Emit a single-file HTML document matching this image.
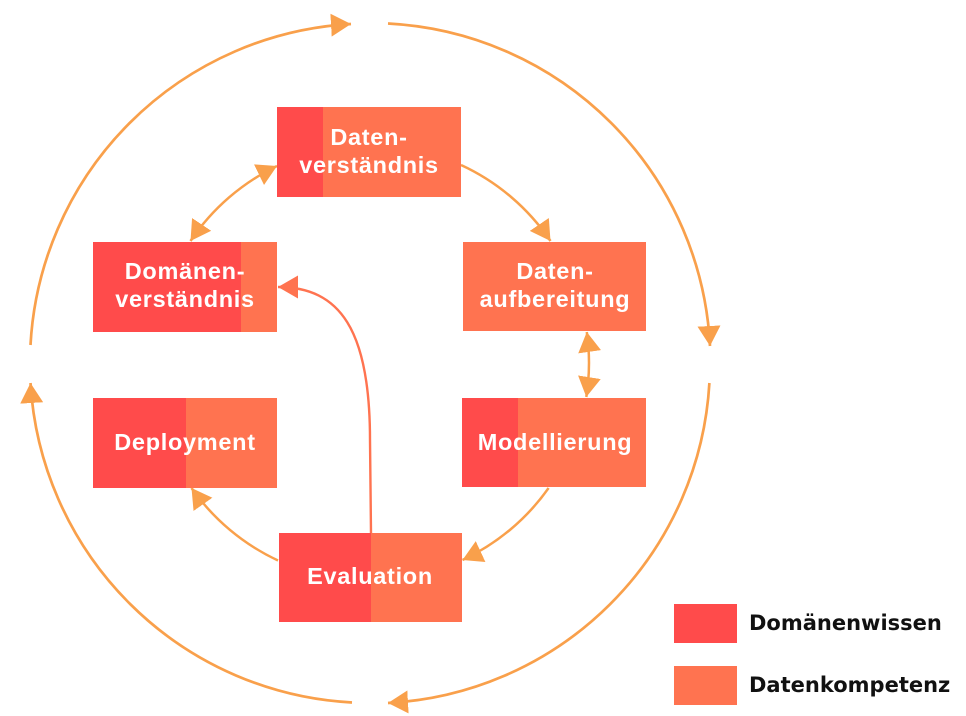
<!DOCTYPE html>
<html>
<head>
<meta charset="utf-8">
<style>
  html, body { margin: 0; padding: 0; background: #ffffff; }
  body { width: 966px; height: 716px; overflow: hidden; }
  svg { display: block; }
  .bt { font-family: "Liberation Sans", "DejaVu Sans", sans-serif; font-weight: bold; font-size: 23.5px; fill: #ffffff; letter-spacing: 0.7px; }
  .lt { font-family: "DejaVu Sans", "Liberation Sans", sans-serif; font-weight: bold; font-size: 21px; fill: #111111; }
</style>
</head>
<body>
<svg width="966" height="716" viewBox="0 0 966 716" xmlns="http://www.w3.org/2000/svg">
  <defs>
    <marker id="ao" markerUnits="userSpaceOnUse" viewBox="0 0 20 23" markerWidth="20" markerHeight="23" refX="20" refY="11.5" orient="auto-start-reverse">
      <path d="M0,0 L20,11.5 L0,23 Z" fill="#F9A04B"/>
    </marker>
    <marker id="ar" markerUnits="userSpaceOnUse" viewBox="0 0 20 23" markerWidth="20" markerHeight="23" refX="20" refY="11.5" orient="auto-start-reverse">
      <path d="M0,0 L20,11.5 L0,23 Z" fill="#FF7350"/>
    </marker>
  </defs>

  <!-- outer circle arcs -->
  <g fill="none" stroke="#F9A04B" stroke-width="2.7">
    <path d="M30.5,345 A340,340 0 0 1 351,24" marker-end="url(#ao)"/>
    <path d="M388,23.5 A340,340 0 0 1 710,346" marker-end="url(#ao)"/>
    <path d="M709.4,383 A340,340 0 0 1 388,703" marker-end="url(#ao)"/>
    <path d="M352,702.5 A340,340 0 0 1 30.5,383" marker-end="url(#ao)"/>
  </g>

  <!-- inner arcs -->
  <g fill="none" stroke="#F9A04B" stroke-width="2.5">
    <path d="M461,165 A218,218 0 0 1 550.5,241" marker-end="url(#ao)"/>
    <path d="M586.8,332 A219,219 0 0 1 586.3,397" marker-start="url(#ao)" marker-end="url(#ao)"/>
    <path d="M548.6,488 A218,218 0 0 1 462.5,560" marker-end="url(#ao)"/>
    <path d="M278,560.5 A218,218 0 0 1 191.5,488" marker-end="url(#ao)"/>
    <path d="M190.5,241 A218,218 0 0 1 277,166" marker-start="url(#ao)" marker-end="url(#ao)"/>
  </g>

  <!-- red feedback curve -->
  <path d="M371,533 L370,440 C370,330 340,287 278,287" fill="none" stroke="#FF7350" stroke-width="2.4" marker-end="url(#ar)"/>

  <!-- Datenverständnis -->
  <rect x="277" y="107" width="184" height="90" fill="#FF7350"/>
  <rect x="277" y="107" width="46" height="90" fill="#FF4B4B"/>
  <text class="bt" x="369" y="145" text-anchor="middle">Daten-</text>
  <text class="bt" x="369" y="173" text-anchor="middle">verständnis</text>

  <!-- Domänenverständnis -->
  <rect x="93" y="242" width="184" height="90" fill="#FF7350"/>
  <rect x="93" y="242" width="148" height="90" fill="#FF4B4B"/>
  <text class="bt" x="185" y="279" text-anchor="middle">Domänen-</text>
  <text class="bt" x="185" y="307" text-anchor="middle">verständnis</text>

  <!-- Datenaufbereitung -->
  <rect x="463" y="242" width="183" height="89" fill="#FF7350"/>
  <text class="bt" x="555" y="279" text-anchor="middle">Daten-</text>
  <text class="bt" x="555" y="307" text-anchor="middle">aufbereitung</text>

  <!-- Modellierung -->
  <rect x="462" y="398" width="184" height="89" fill="#FF7350"/>
  <rect x="462" y="398" width="56" height="89" fill="#FF4B4B"/>
  <text class="bt" x="555" y="450" text-anchor="middle">Modellierung</text>

  <!-- Deployment -->
  <rect x="93" y="398" width="184" height="90" fill="#FF7350"/>
  <rect x="93" y="398" width="93" height="90" fill="#FF4B4B"/>
  <text class="bt" x="185" y="450" text-anchor="middle">Deployment</text>

  <!-- Evaluation -->
  <rect x="279" y="533" width="183" height="89" fill="#FF7350"/>
  <rect x="279" y="533" width="92" height="89" fill="#FF4B4B"/>
  <text class="bt" x="370" y="584" text-anchor="middle">Evaluation</text>

  <!-- legend -->
  <rect x="674" y="604" width="63" height="39" fill="#FF4B4B"/>
  <text class="lt" x="749" y="630">Domänenwissen</text>
  <rect x="674" y="666" width="63" height="39" fill="#FF7350"/>
  <text class="lt" x="749" y="692">Datenkompetenz</text>
</svg>
</body>
</html>
